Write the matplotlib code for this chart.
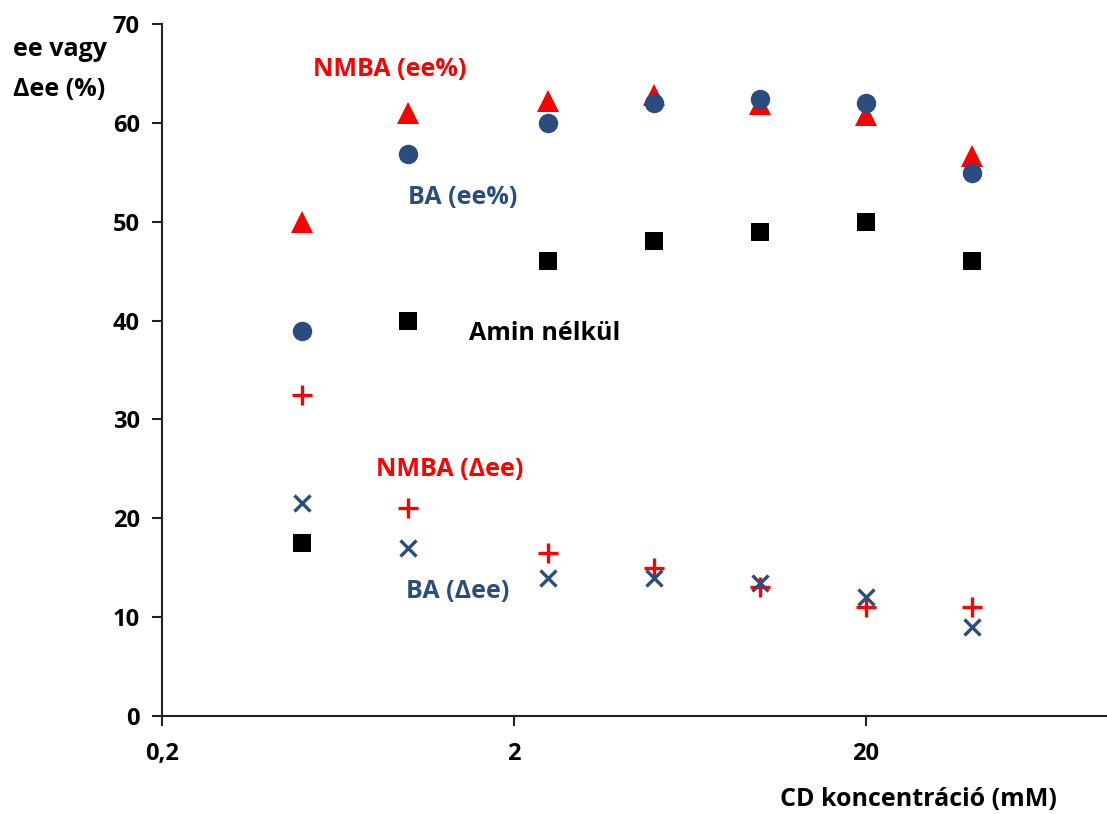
import matplotlib
matplotlib.use("Agg")
import matplotlib.pyplot as plt
import numpy as np
from matplotlib.ticker import FixedLocator, FixedFormatter, NullLocator

# Data
conc = [0.5, 1, 2.5, 5, 10, 20, 40]
nmba_ee = [50, 61, 62.2, 62.8, 61.9, 60.8, 56.6]
ba_ee = [38.9, 56.9, 60, 62, 62.4, 62, 54.9]
amin_nelkul = [17.5, 40, 46, 48, 49, 50, 46]
nmba_dee = [32.5, 21, 16.5, 15, 13, 11, 11]
ba_dee = [21.5, 17, 14, 14, 13.5, 12, 9]
xtick_vals = [0.2, 2, 20]
xtick_labels = ["0,2", "2", "20"]
ytick_vals = [0, 10, 20, 30, 40, 50, 60, 70]

W, H = 1107, 814
fig = plt.figure(figsize=(W / 100, H / 100), dpi=100)
plt.rcParams['font.family'] = ['Open Sans', 'DejaVu Sans']

left, right, top, bottom = 162, 1107, 24, 716
ax = fig.add_axes([left / W, 1 - bottom / H, (right - left) / W, (bottom - top) / H])

RED = '#FF0000'
BLUE = '#2B4C7E'

ax.plot(conc, nmba_ee, linestyle='none', marker='^', markersize=16, color=RED, markeredgewidth=0)
ax.plot(conc, ba_ee, linestyle='none', marker='o', markersize=14, color=BLUE, markeredgewidth=0)
ax.plot(conc, amin_nelkul, linestyle='none', marker='s', markersize=13, color='black', markeredgewidth=0)
ax.plot(conc, nmba_dee, linestyle='none', marker='+', markersize=14, color=RED, markeredgewidth=2.4)
ax.plot(conc, ba_dee, linestyle='none', marker='x', markersize=12, color=BLUE, markeredgewidth=2.4)

ax.set_xscale('log')
xmax = 0.2 * 10 ** ((right - left) / 352.0)
ax.set_xlim(0.2, xmax)
ax.set_ylim(0, 70)

ax.xaxis.set_major_locator(FixedLocator(xtick_vals))
ax.xaxis.set_major_formatter(FixedFormatter(xtick_labels))
ax.xaxis.set_minor_locator(NullLocator())
ax.set_yticks(ytick_vals)

for s in ['top', 'right']:
    ax.spines[s].set_visible(False)
for s in ['left', 'bottom']:
    ax.spines[s].set_linewidth(1.5)
    ax.spines[s].set_color('#222222')

ax.tick_params(axis='both', direction='out', length=7, width=1.5, color='#222222',
               labelsize=17)
ax.tick_params(axis='y', pad=9)
ax.tick_params(axis='x', pad=12)
for lab in ax.get_xticklabels() + ax.get_yticklabels():
    lab.set_fontweight('bold')

def ftext(x, y, s, color='black', ha='center'):
    fig.text(x / W, 1 - y / H, s, color=color, ha=ha, va='center',
             fontsize=18, fontweight='bold')

ftext(13, 49, "ee vagy", ha='left')
ftext(13, 89, "Δee (%)", ha='left')
ftext(390, 69, "NMBA (ee%)", RED)
ftext(463, 197, "BA (ee%)", BLUE)
ftext(545, 333, "Amin nélkül")
ftext(450, 469, "NMBA (Δee)", RED)
ftext(458, 592, "BA (Δee)", BLUE)
ftext(918, 800, "CD koncentráció (mM)")

fig.savefig("out.png", dpi=100)
